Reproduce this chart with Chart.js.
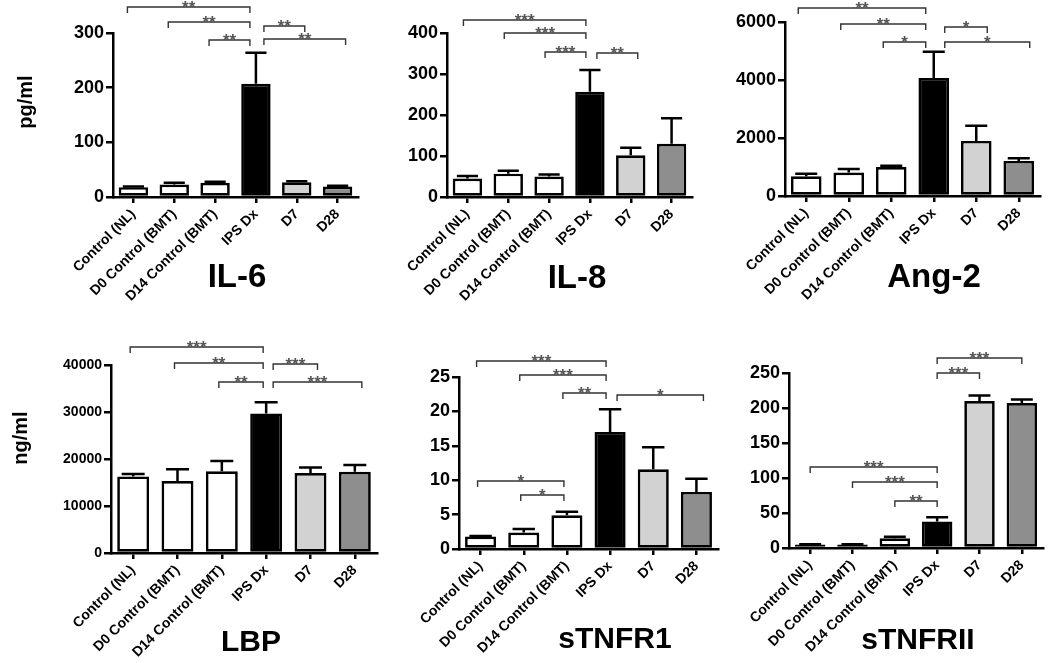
<!DOCTYPE html>
<html><head><meta charset="utf-8">
<script src="https://cdn.jsdelivr.net/npm/chart.js@4.4.1/dist/chart.umd.min.js"></script>
<style>
html,body{margin:0;padding:0;background:#fff;}
#wrap{position:relative;width:1050px;height:663px;overflow:hidden;font-family:"Liberation Sans",Arial,sans-serif;background:#fff;}
canvas{position:absolute;left:0;top:0;pointer-events:none;}
.t{position:absolute;font-weight:bold;color:#000;line-height:1;white-space:nowrap;transform:translateX(-50%);}
.yl{position:absolute;font-weight:bold;font-size:20px;line-height:1;white-space:nowrap;color:#000;transform:translate(-50%,-50%) rotate(-90deg);}
</style></head>
<body><div id="wrap">
<canvas id="c1" width="1050" height="663"></canvas>
<canvas id="c2" width="1050" height="663"></canvas>
<canvas id="c3" width="1050" height="663"></canvas>
<canvas id="c4" width="1050" height="663"></canvas>
<canvas id="c5" width="1050" height="663"></canvas>
<canvas id="c6" width="1050" height="663"></canvas>
<div class="t" style="left:237px;top:259px;font-size:33px;">IL-6</div>
<div class="t" style="left:577px;top:260px;font-size:33px;">IL-8</div>
<div class="t" style="left:934px;top:259px;font-size:33px;">Ang-2</div>
<div class="t" style="left:251px;top:626px;font-size:30px;">LBP</div>
<div class="t" style="left:615px;top:623px;font-size:30px;">sTNFR1</div>
<div class="t" style="left:918px;top:624px;font-size:30px;">sTNFRII</div>
<div class="yl" style="left:25px;top:102px;">pg/ml</div>
<div class="yl" style="left:20px;top:438px;">ng/ml</div>
</div>
<script>
// ---- data ----
const categories = ['Control (NL)', 'D0 Control (BMT)', 'D14 Control (BMT)', 'IPS Dx', 'D7', 'D28'];

const il6Values = [18, 23, 26, 207, 27, 19];
const il6Errors = [1, 3, 2, 57, 2, 1.5];
const il6Sig = [[0, 3, '**'], [1, 3, '**'], [2, 3, '**'], [3, 4, '**'], [3, 5, '**']];

const il8Values = [45, 57, 50, 257, 102, 130];
const il8Errors = [6, 7, 5, 53, 18, 62];
const il8Sig = [[0, 3, '***'], [1, 3, '***'], [2, 3, '***'], [3, 4, '**']];

const ang2Values = [680, 810, 1000, 4070, 1900, 1210];
const ang2Errors = [90, 120, 40, 900, 520, 90];
const ang2Sig = [[0, 3, '**'], [1, 3, '**'], [2, 3, '*'], [3, 4, '*'], [3, 5, '*']];

const lbpValues = [16300, 15300, 17400, 29700, 17000, 17300];
const lbpErrors = [500, 2500, 2200, 2350, 1200, 1400];
const lbpSig = [[0, 3, '***'], [1, 3, '**'], [2, 3, '**'], [3, 4, '***'], [3, 5, '***']];

const stnfr1Values = [1.8, 2.4, 4.9, 17.0, 11.6, 8.3];
const stnfr1Errors = [0.1, 0.5, 0.5, 3.3, 3.2, 1.9];
const stnfr1Sig = [[0, 3, '***'], [1, 3, '***'], [2, 3, '**'], [3, 5, '*'], [0, 2, '*'], [1, 2, '*']];

const stnfr2Values = [5, 5, 14, 38, 210, 207];
const stnfr2Errors = [0.5, 0.5, 2, 6, 8, 5];
const stnfr2Sig = [[3, 5, '***'], [3, 4, '***'], [0, 3, '***'], [1, 3, '***'], [2, 3, '**']];

// y-axis tick settings: [max, step]
const il6Ticks = [300, 100];
const il8Ticks = [400, 100];
const ang2Ticks = [6000, 2000];
const lbpTicks = [40000, 10000];
const stnfr1Ticks = [25, 5];
const stnfr2Ticks = [250, 50];

// ---- styles / layout ----
const barColors = ['#ffffff', '#ffffff', '#ffffff', '#000000', '#d2d2d2', '#8e8e8e'];
const FONT = '"Liberation Sans", Arial, sans-serif';
const YW = 60;

const overlay = {
  id: 'overlay',
  afterDatasetsDraw(chart, args, o) {
    const ctx = chart.ctx, x = chart.scales.x, y = chart.scales.y;
    const meta = chart.getDatasetMeta(0);
    ctx.save();
    ctx.strokeStyle = '#000';
    ctx.lineWidth = 2.5;
    ctx.lineCap = 'butt';
    o.values.forEach((v, i) => {
      const bar = meta.data[i];
      const cx = bar.x;
      const y0 = y.getPixelForValue(v);
      const y1 = y.getPixelForValue(v + o.errors[i]);
      const hw = bar.width * 0.36;
      ctx.beginPath();
      ctx.moveTo(cx, y0); ctx.lineTo(cx, y1);
      ctx.moveTo(cx - hw, y1); ctx.lineTo(cx + hw, y1);
      ctx.stroke();
    });
    ctx.strokeStyle = '#333';
    ctx.lineWidth = 1.4;
    ctx.fillStyle = '#555';
    ctx.font = 'bold 17px ' + FONT;
    ctx.textAlign = 'center';
    ctx.textBaseline = 'alphabetic';
    o.sig.forEach((s, k) => {
      const [a, b, lab] = s;
      let sh = o.shift[2];
      if (b === 3 && a < 3) sh = o.shift[0];
      else if (a === 3 && b > 3) sh = o.shift[1];
      const x1 = x.getPixelForValue(a) + sh;
      const x2 = x.getPixelForValue(b) + sh;
      const ly = o.bracketY[k];
      ctx.beginPath();
      ctx.moveTo(x1, ly + 6); ctx.lineTo(x1, ly); ctx.lineTo(x2, ly); ctx.lineTo(x2, ly + 6);
      ctx.stroke();
      ctx.fillText(lab, (x1 + x2) / 2, ly + 6);
    });
    ctx.restore();
  }
};

function makePanel(id, values, errors, sig, ticks, L) {
  const XH = L.xh;
  new Chart(document.getElementById(id), {
    type: 'bar',
    data: {
      labels: categories,
      datasets: [{
        data: values,
        backgroundColor: barColors,
        borderColor: '#000',
        borderWidth: 2.7,
        borderSkipped: false,
        barPercentage: 0.72,
        categoryPercentage: 1.0
      }]
    },
    options: {
      responsive: false,
      animation: false,
      events: [],
      layout: { padding: { left: L.left - YW, right: 1050 - L.right, top: L.top, bottom: 663 - L.bottom - XH } },
      plugins: {
        legend: { display: false },
        tooltip: { enabled: false },
        overlay: { values: values, errors: errors, sig: sig, bracketY: L.bracketY, shift: L.shift }
      },
      scales: {
        x: {
          offset: true,
          border: { display: true, color: '#000', width: 2.5 },
          grid: { display: true, offset: false, drawOnChartArea: false, drawTicks: true, tickLength: 6, color: '#000', lineWidth: 2.5 },
          ticks: { autoSkip: false, maxRotation: 45, minRotation: 45, padding: 3, color: '#000', font: { family: FONT, size: 14, weight: 'bold' } },
          afterFit(s) { s.height = XH; s.paddingLeft = 0; s.paddingRight = 0; }
        },
        y: {
          min: 0, max: ticks[0],
          border: { display: true, color: '#000', width: 2.5 },
          grid: { display: true, drawOnChartArea: false, drawTicks: true, tickLength: 7, color: '#000', lineWidth: 2.5 },
          ticks: { stepSize: ticks[1], padding: 2, color: '#000', font: { family: FONT, size: L.tickSize, weight: 'bold' },
                   callback: (v) => String(v) },
          afterFit(s) { s.width = YW; s.paddingTop = 0; s.paddingBottom = 0; }
        }
      }
    },
    plugins: [overlay]
  });
}

makePanel('c1', il6Values, il6Errors, il6Sig, il6Ticks,
  { left: 113, right: 358, top: 33, bottom: 197, xh: 140, tickSize: 18, bracketY: [7, 22, 40, 26, 39], shift: [-6, 8, 0] });
makePanel('c2', il8Values, il8Errors, il8Sig, il8Ticks,
  { left: 447, right: 692, top: 33, bottom: 197, xh: 140, tickSize: 18, bracketY: [20, 33, 52, 53], shift: [-4, 7, 0] });
makePanel('c3', ang2Values, ang2Errors, ang2Sig, ang2Ticks,
  { left: 785, right: 1040, top: 22, bottom: 196, xh: 140, tickSize: 18, bracketY: [8, 24, 42, 27, 42], shift: [-8, 11, 0] });
makePanel('c4', lbpValues, lbpErrors, lbpSig, lbpTicks,
  { left: 111, right: 377, top: 365, bottom: 553, xh: 110, tickSize: 14, bracketY: [347, 363, 382, 364, 382], shift: [-3, 7, 0] });
makePanel('c5', stnfr1Values, stnfr1Errors, stnfr1Sig, stnfr1Ticks,
  { left: 459, right: 718, top: 377, bottom: 549, xh: 114, tickSize: 18, bracketY: [361, 375, 393, 395, 481, 495], shift: [-4, 7, -3] });
makePanel('c6', stnfr2Values, stnfr2Errors, stnfr2Sig, stnfr2Ticks,
  { left: 789, right: 1043, top: 373, bottom: 548, xh: 115, tickSize: 18, bracketY: [358, 373, 467, 482, 501], shift: [0, 0, 0] });
</script>
</body></html>
